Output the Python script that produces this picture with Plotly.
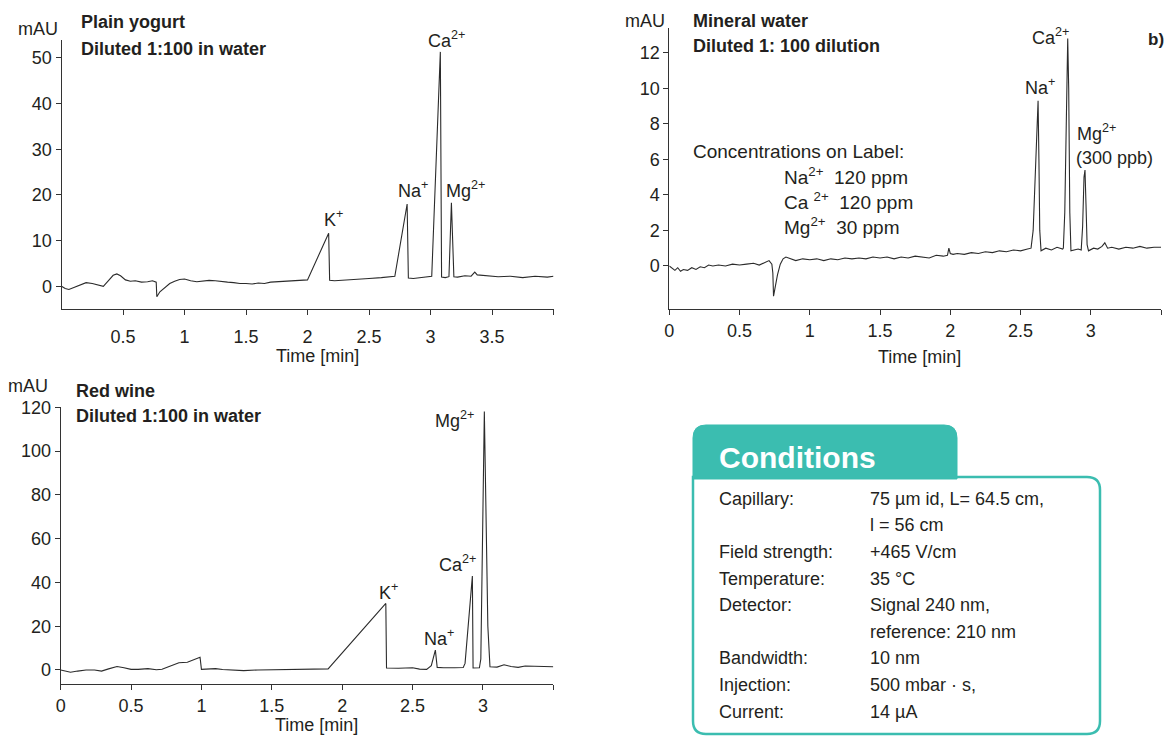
import plotly.graph_objects as go

W, H = 1168, 737

# ---------------- data ----------------
yog_t = [0.00, 0.03, 0.06, 0.10, 0.15, 0.20, 0.25, 0.30, 0.34, 0.38, 0.42, 0.45, 0.48, 0.52, 0.56,
         0.60, 0.65, 0.70, 0.74, 0.77, 0.775, 0.80, 0.84, 0.88, 0.92, 0.96, 1.00, 1.05, 1.10, 1.15,
         1.20, 1.25, 1.30, 1.35, 1.40, 1.45, 1.50, 1.55, 1.60, 1.65, 1.70, 1.75, 1.80, 1.85, 1.90,
         1.95, 2.00, 2.172, 2.18, 2.22, 2.30, 2.40, 2.50, 2.60, 2.66, 2.71, 2.81, 2.82, 2.86, 2.92,
         2.98, 3.01, 3.08, 3.09, 3.12, 3.15, 3.17, 3.19, 3.22, 3.28, 3.33, 3.36, 3.38, 3.45, 3.55,
         3.65, 3.75, 3.85, 3.95, 4.00]
yog_v = [0.0, -0.5, -0.7, -0.3, 0.3, 0.8, 0.6, 0.3, 0.0, 1.2, 2.4, 2.7, 2.3, 1.4, 1.1,
         1.2, 0.9, 1.0, 1.2, 0.9, -2.3, -1.2, -0.2, 0.6, 1.1, 1.5, 1.6, 1.2, 1.0, 1.1,
         1.3, 1.2, 1.0, 0.9, 0.8, 0.6, 0.6, 0.5, 0.7, 0.6, 0.9, 1.0, 1.1, 1.2, 1.3,
         1.4, 1.4, 11.6, 1.3, 1.2, 1.3, 1.5, 1.7, 1.9, 2.0, 2.2, 18.0, 1.8, 1.7, 1.9,
         2.0, 2.2, 51.3, 2.0, 1.9, 2.1, 18.3, 2.1, 2.0, 2.3, 2.2, 3.1, 2.5, 2.3, 2.1,
         2.2, 1.9, 2.2, 2.0, 2.2]

min_t = [0.00, 0.02, 0.04, 0.06, 0.08, 0.10, 0.13, 0.16, 0.19, 0.22, 0.25, 0.28, 0.31, 0.35, 0.40,
         0.45, 0.50, 0.55, 0.60, 0.64, 0.68, 0.71, 0.73, 0.737, 0.742, 0.752, 0.77, 0.79, 0.81, 0.83,
         0.86, 0.90, 0.95, 1.00, 1.05, 1.10, 1.15, 1.20, 1.25, 1.30, 1.35, 1.40, 1.45, 1.50, 1.55,
         1.60, 1.65, 1.70, 1.75, 1.80, 1.85, 1.90, 1.95, 1.98, 1.99, 2.00, 2.02, 2.05, 2.10, 2.15,
         2.20, 2.25, 2.30, 2.35, 2.40, 2.45, 2.50, 2.55, 2.575, 2.59, 2.605, 2.619, 2.625, 2.631, 2.637,
         2.646, 2.68, 2.72, 2.76, 2.80, 2.805, 2.815, 2.826, 2.836, 2.843, 2.851, 2.859, 2.88, 2.91,
         2.932, 2.942, 2.952, 2.959, 2.966, 2.974, 2.984, 3.02, 3.05, 3.08, 3.10, 3.12, 3.15, 3.20,
         3.25, 3.30, 3.35, 3.40, 3.45, 3.50]
min_v = [0.0, -0.15, -0.25, -0.1, -0.3, -0.2, -0.25, -0.1, -0.2, -0.05, -0.1, 0.05, 0.0, 0.05, 0.0,
         0.1, 0.05, 0.1, 0.15, 0.05, 0.2, 0.3, 0.1, -0.4, -1.7, -1.2, -0.5, 0.1, 0.4, 0.5,
         0.4, 0.3, 0.4, 0.35, 0.4, 0.3, 0.4, 0.35, 0.45, 0.4, 0.45, 0.4, 0.5, 0.45, 0.5,
         0.4, 0.5, 0.45, 0.55, 0.5, 0.45, 0.6, 0.55, 0.6, 1.0, 0.7, 0.65, 0.7, 0.65, 0.75,
         0.7, 0.8, 0.75, 0.85, 0.8, 0.9, 0.85, 0.95, 1.0, 2.0, 5.5, 8.8, 9.3, 6.0, 2.0,
         0.85, 1.0, 0.9, 1.05, 0.95, 1.0, 3.0, 9.0, 12.8, 10.0, 3.0, 0.85, 0.9, 0.95,
         0.9, 2.2, 5.0, 5.4, 3.5, 1.2, 0.85, 1.0, 0.95, 1.1, 1.3, 1.0, 1.05, 0.95,
         1.05, 1.0, 1.1, 1.0, 1.05, 1.05]

wine_t = [0.00, 0.04, 0.07, 0.12, 0.18, 0.24, 0.29, 0.34, 0.40, 0.45, 0.50, 0.55, 0.62, 0.68, 0.72,
          0.78, 0.84, 0.90, 0.95, 0.99, 1.00, 1.05, 1.10, 1.15, 1.20, 1.25, 1.30, 1.40, 1.50, 1.60,
          1.70, 1.80, 1.90, 2.31, 2.315, 2.40, 2.50, 2.55, 2.60, 2.633, 2.662, 2.675, 2.72, 2.80, 2.86,
          2.873, 2.925, 2.93, 2.975, 2.985, 3.01, 3.035, 3.05, 3.10, 3.15, 3.20, 3.25, 3.30, 3.40, 3.50]
wine_v = [0.0, -0.5, -1.0, -0.5, 0.0, 0.0, -0.5, 0.5, 1.6, 1.0, 0.3, 0.3, 0.6, 0.1, 0.3,
          1.8, 3.3, 3.5, 4.8, 5.8, 0.3, 0.4, 0.6, 0.2, 0.0, -0.4, -0.3, 0.0, 0.1, 0.2,
          0.2, 0.3, 0.5, 30.4, 0.9, 0.8, 1.0, 0.4, 0.3, 2.0, 9.1, 1.2, 1.0, 1.0, 1.1,
          3.0, 42.9, 0.9, 1.0, 5.0, 118.0, 20.0, 1.5, 1.3, 2.4, 1.6, 1.2, 1.8, 1.5, 1.5]

yog_xticks = [0.5, 1, 1.5, 2, 2.5, 3, 3.5, 4]
yog_xtext = ["0.5", "1", "1.5", "2", "2.5", "3", "3.5", ""]
yog_yticks = [0, 10, 20, 30, 40, 50]
min_xticks = [0, 0.5, 1, 1.5, 2, 2.5, 3, 3.5]
min_xtext = ["0", "0.5", "1", "1.5", "2", "2.5", "3", ""]
min_yticks = [0, 2, 4, 6, 8, 10, 12]
wine_xticks = [0, 0.5, 1, 1.5, 2, 2.5, 3, 3.5]
wine_xtext = ["0", "0.5", "1", "1.5", "2", "2.5", "3", ""]
wine_yticks = [0, 20, 40, 60, 80, 100, 120]

cond_labels = ["Capillary:", "", "Field strength:", "Temperature:", "Detector:", "",
               "Bandwidth:", "Injection:", "Current:"]
cond_values = ["75 µm id, L= 64.5 cm,", "l = 56 cm", "+465 V/cm", "35 °C", "Signal 240 nm,",
               "reference: 210 nm", "10 nm", "500 mbar · s,", "14 µA"]

# ---------------- helpers ----------------
FONT = "Liberation Sans, Arial, sans-serif"
TXT = "#231f20"
TEAL = "#3bbdb0"


def px(x):
    return x / W


def py(y):
    return 1 - y / H


fig = go.Figure()
line = dict(color="#2b2b2b", width=1.1)
fig.add_trace(go.Scatter(x=yog_t, y=yog_v, xaxis="x", yaxis="y", mode="lines", line=line,
                         hoverinfo="skip", showlegend=False))
fig.add_trace(go.Scatter(x=min_t, y=min_v, xaxis="x2", yaxis="y2", mode="lines", line=line,
                         hoverinfo="skip", showlegend=False))
fig.add_trace(go.Scatter(x=wine_t, y=wine_v, xaxis="x3", yaxis="y3", mode="lines", line=line,
                         hoverinfo="skip", showlegend=False))

tickfont = dict(family=FONT, size=18, color=TXT)


def ax(domain, rng, tv, tt, anchor, standoff=None):
    d = dict(domain=domain, range=rng, tickmode="array", tickvals=tv, ticktext=tt,
             showline=True, linecolor="#333", linewidth=1, ticks="outside", ticklen=5,
             tickcolor="#333", tickwidth=1, showgrid=False, zeroline=False,
             tickfont=tickfont, anchor=anchor, automargin=False, fixedrange=True)
    if standoff is not None:
        d["ticklabelstandoff"] = standoff
    return d


fig.update_layout(
    width=W, height=H, margin=dict(l=0, r=0, t=0, b=0),
    paper_bgcolor="white", plot_bgcolor="white",
    xaxis=ax([px(61.5), px(553.5)], [0, 4], yog_xticks, yog_xtext, "y", 6),
    yaxis=ax([py(309.3), py(40)], [-5.04, 53.9], yog_yticks, [str(v) for v in yog_yticks], "x"),
    xaxis2=ax([px(669.3), px(1161.0)], [0, 3.5], min_xticks, min_xtext, "y2", 0),
    yaxis2=ax([py(309.3), py(28)], [-2.44, 13.39], min_yticks, [str(v) for v in min_yticks], "x2"),
    xaxis3=ax([px(60.7), px(553.3)], [0, 3.5], wine_xticks, wine_xtext, "y3", 0),
    yaxis3=ax([py(684), py(407)], [-6.4, 120.1], wine_yticks, [str(v) for v in wine_yticks], "x3"),
)


def ann(text, x, y, size=18, xanchor="center", color=TXT):
    fig.add_annotation(text=text, x=px(x), y=py(y), xref="paper", yref="paper",
                       showarrow=False, xanchor=xanchor, yanchor="middle",
                       font=dict(family=FONT, size=size, color=color))


# top-left: yogurt
ann("mAU", 16, 29, xanchor="left")
ann("<b>Plain yogurt</b>", 79, 22, xanchor="left")
ann("<b>Diluted 1:100 in water</b>", 79, 49, xanchor="left")
ann("Ca<sup>2+</sup>", 446, 40)
ann("K<sup>+</sup>", 333, 219)
ann("Na<sup>+</sup>", 413, 190)
ann("Mg<sup>2+</sup>", 465, 189)
ann("Time [min]", 317, 356)

# top-right: mineral water
ann("mAU", 623, 21, xanchor="left")
ann("<b>Mineral water</b>", 691, 21, xanchor="left")
ann("<b>Diluted 1: 100 dilution</b>", 691, 46, xanchor="left")
ann("Concentrations on Label:", 691, 151, size=19, xanchor="left")
ann("Na<sup>2+</sup>  120 ppm", 782, 176, size=19, xanchor="left")
ann("Ca <sup>2+</sup>  120 ppm", 782, 201, size=19, xanchor="left")
ann("Mg<sup>2+</sup>  30 ppm", 782, 226, size=19, xanchor="left")
ann("Ca<sup>2+</sup>", 1050, 36)
ann("Na<sup>+</sup>", 1040, 86)
ann("<b>b)</b>", 1166, 40, size=17, xanchor="right")
ann("Mg<sup>2+</sup>", 1075, 133, xanchor="left")
ann("(300 ppb)", 1074, 158, xanchor="left")
ann("Time [min]", 919, 357)

# bottom-left: red wine
ann("mAU", 6, 386, xanchor="left")
ann("<b>Red wine</b>", 74, 391, xanchor="left")
ann("<b>Diluted 1:100 in water</b>", 74, 416, xanchor="left")
ann("Mg<sup>2+</sup>", 455, 419)
ann("Ca<sup>2+</sup>", 457, 563)
ann("K<sup>+</sup>", 388, 591)
ann("Na<sup>+</sup>", 439, 637)
ann("Time [min]", 316, 725)


# conditions box
def P(x, y):
    return f"{px(x):.5f},{py(y):.5f}"


body = ("M " + P(693, 477) + " L " + P(1087, 477) + " Q " + P(1100, 477) + " " + P(1100, 490) +
        " L " + P(1100, 721) + " Q " + P(1100, 734) + " " + P(1087, 734) +
        " L " + P(706, 734) + " Q " + P(693, 734) + " " + P(693, 721) + " Z")
tab = ("M " + P(693, 479) + " L " + P(693, 438) + " Q " + P(693, 425) + " " + P(706, 425) +
       " L " + P(944, 425) + " Q " + P(957, 425) + " " + P(957, 438) + " L " + P(957, 479) + " Z")
fig.add_shape(type="path", path=body, xref="paper", yref="paper",
              line=dict(color=TEAL, width=2.5), fillcolor="white", layer="above")
fig.add_shape(type="path", path=tab, xref="paper", yref="paper",
              line=dict(color=TEAL, width=1), fillcolor=TEAL, layer="above")

ann("<b>Conditions</b>", 717, 458, size=30, color="white", xanchor="left")
row_y = [499, 525, 552, 579, 605, 632, 658, 685, 712]
for lab, val, yy in zip(cond_labels, cond_values, row_y):
    if lab:
        ann(lab, 717, yy, xanchor="left")
    ann(val, 868, yy, xanchor="left")

fig.write_html("out.html")
